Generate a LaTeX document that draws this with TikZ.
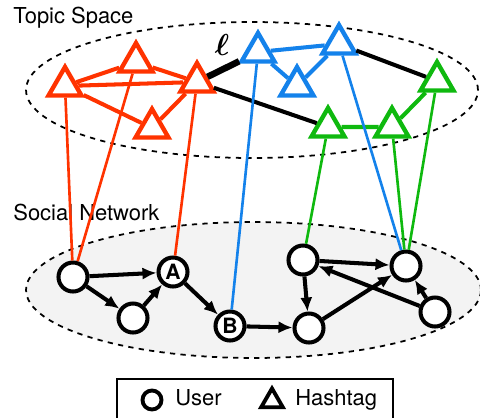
\documentclass[tikz,border=0pt]{standalone}
\usepackage{bm}
\usepackage{fontspec}
\setmainfont{TeX Gyre Heros}
\usetikzlibrary{shapes.geometric,arrows.meta}
\definecolor{tagred}{RGB}{255,51,0}
\definecolor{tagblue}{RGB}{20,130,235}
\definecolor{taggreen}{RGB}{15,185,15}
\definecolor{netgray}{RGB}{243,243,243}
\tikzset{
    user/.style={circle, draw, line width=2.3pt, fill=white, minimum size=0.58cm, inner sep=0pt, font=\fontsize{12}{12}\selectfont\bfseries},
    tag/.style={regular polygon, regular polygon sides=3, draw=#1, line width=2.5pt, fill=white, minimum size=0.76cm, inner sep=0pt},
    link/.style={line width=2.3pt, #1},
    refer/.style={line width=1.5pt, #1},
    follow/.style={line width=2.3pt, -{Latex[length=8pt,width=7pt]}},
    title/.style={anchor=base west, inner sep=0pt, font=\fontsize{12.5}{15}\selectfont}
}
\begin{document}
\begin{tikzpicture}[x=0.02cm, y=-0.02cm]
        \useasboundingbox (0, 0) rectangle (480, 417);
        \draw[dashed, line width=1pt] (252, 90) ellipse (4.52cm and 1.36cm);
        \draw[dashed, line width=1pt, fill=netgray] (253.5, 290) ellipse (4.55cm and 1.36cm);
        \node[title] (topic) at (13, 23) {Topic Space};
        \node[title] (social) at (13, 220) {Social Network};
        \node[tag=tagred] (r1) at (65, 86) {};
        \node[tag=tagred] (r2) at (136, 62) {};
        \node[tag=tagred] (r3) at (197, 82) {};
        \node[tag=tagred] (r4) at (152, 128) {};
        \node[tag=tagblue] (b1) at (258, 52) {};
        \node[tag=tagblue] (b2) at (339, 44) {};
        \node[tag=tagblue] (b3) at (297, 86) {};
        \node[tag=taggreen] (g1) at (437, 81) {};
        \node[tag=taggreen] (g2) at (328, 127) {};
        \node[tag=taggreen] (g3) at (392, 127) {};
        \node[font=\LARGE] (ell) at (222, 45) {$\bm{\ell}$};
        \node[user] (u1) at (73, 277) {};
        \node[user] (ua) at (173, 272) {A};
        \node[user] (u2) at (133, 318) {};
        \node[user] (ub) at (230, 326) {B};
        \node[user] (u3) at (303, 260) {};
        \node[user] (u4) at (406, 266) {};
        \node[user] (u5) at (309, 328) {};
        \node[user] (u6) at (435, 312) {};
        \draw[link=tagred] (r1) -- (r2) (r1) -- (r3) (r2) -- (r3) (r1) -- (r4) (r3) -- (r4);
        \draw[link=tagblue] (b1) -- (b2) (b1) -- (b3) (b2) -- (b3);
        \draw[link=taggreen] (g2) -- (g3) (g3) -- (g1);
        \draw[line width=3.7pt] (r3) -- (b1);
        \draw[link=black] (r3) -- (g2) (b2) -- (g1);
        \draw[refer=tagred] (r1) -- (u1) (r2) -- (u1) (r3) -- (ua);
        \draw[refer=tagblue] (b1) -- (ub) (b2) -- (u4);
        \draw[refer=taggreen] (g2) -- (u3) (g3) -- (u4) (g1) -- (u4);
        \draw[follow] (u1) -- (ua);
        \draw[follow] (u1) -- (u2);
        \draw[follow] (u2) -- (ua);
        \draw[follow] (ua) -- (ub);
        \draw[follow] (ub) -- (u5);
        \draw[follow] (u3) -- (u4);
        \draw[follow] (u3) -- (u5);
        \draw[follow] (u5) -- (u4);
        \draw[follow] (u6) -- (u3);
        \draw[follow] (u6) -- (u4);
        \node[draw, line width=0.85pt, minimum width=5.52cm, minimum height=0.82cm] (legend) at (255, 399.5) {};
        \node[circle, draw, line width=2.2pt, minimum size=0.38cm, inner sep=0pt] (lguser) at (152, 400) {};
        \node[title] (lgusertext) at (175, 405) {User};
        \node[regular polygon, regular polygon sides=3, draw, line width=2.2pt, minimum size=0.5cm, inner sep=0pt] (lgtag) at (272, 401) {};
        \node[title] (lgtagtext) at (295, 405) {Hashtag};
    \end{tikzpicture}
\end{document}
